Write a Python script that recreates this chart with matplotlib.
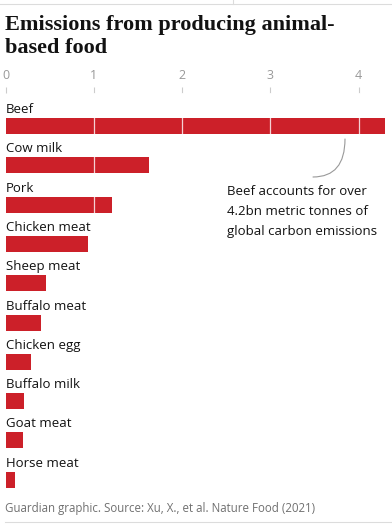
import matplotlib
matplotlib.use("Agg")
import matplotlib.pyplot as plt
from matplotlib.lines import Line2D

foods = ["Beef", "Cow milk", "Pork", "Chicken meat", "Sheep meat",
         "Buffalo meat", "Chicken egg", "Buffalo milk", "Goat meat", "Horse meat"]
emissions = [4.3, 1.63, 1.21, 0.93, 0.455, 0.40, 0.285, 0.206, 0.20, 0.11]
ticks = [0, 1, 2, 3, 4]
note = ["Beef accounts for over", "4.2bn metric tonnes of", "global carbon emissions"]
title = ["Emissions from producing animal-", "based food"]

W, H = 392, 526
red = "#cc2029"
sans = ["Open Sans", "DejaVu Sans"]

fig = plt.figure(figsize=(W / 100, H / 100), dpi=100)


def fx(px):
    return px / W


def fy(py):
    return 1 - py / H


# plot area: x 0 at 5.5px, 88.3px per unit; rows 39.3px apart
left, right = 5.5, 386
top, bottom = 93, 500
ax = fig.add_axes([fx(left), fy(bottom), fx(right - left), (bottom - top) / H])
row_px = 39.3
y0 = -(126 - top) / row_px
ax.set_ylim(y0 + (bottom - top) / row_px, y0)
ax.set_xlim(0, (right - left) / 88.3)


def py2y(py):
    return y0 + (py - top) / row_px


def px2x(px):
    return (px - left) / 88.3


rows = list(range(len(foods)))
ax.barh(rows, emissions, height=16 / row_px, color=red, zorder=2)
for r, name in zip(rows, foods):
    ax.text(0, r - 13 / row_px, name, ha="left", va="baseline",
            fontsize=9.5, family=sans, color="#121212")

for t in ticks[1:]:
    ax.axvline(t, color="white", lw=0.9, alpha=0.8, zorder=3)

ax.xaxis.tick_top()
ax.set_xticks(ticks)
ax.set_xticklabels([str(t) for t in ticks], family=sans, fontsize=9, color="#999999")
ax.tick_params(axis="x", length=4, width=0.8, color="#cccccc", pad=4)
ax.set_yticks([])
for s in ax.spines.values():
    s.set_visible(False)

# annotation for beef
for i, line in enumerate(note):
    ax.text(px2x(227), py2y(195 + 20 * i), line, ha="left", va="baseline",
            fontsize=9.5, family=sans, color="#121212")
ax.annotate("", xy=(px2x(345), py2y(139)), xytext=(px2x(313), py2y(177)),
            arrowprops=dict(arrowstyle="-", color="#999999", lw=0.8,
                            shrinkA=0, shrinkB=0,
                            connectionstyle="angle3,angleA=0,angleB=90"))

# title and footer
for i, line in enumerate(title):
    fig.text(fx(5), fy(30 + 23 * i), line, ha="left", va="baseline",
             fontsize=16, fontweight="bold", family="Liberation Serif",
             color="#121212")
fig.text(fx(5), fy(512), "Guardian graphic. Source: Xu, X., et al. Nature Food (2021)",
         ha="left", va="baseline", fontsize=8.3, family=sans, color="#707070")

# thin rules top and bottom
fig.add_artist(Line2D([0, 1], [fy(4.3), fy(4.3)], color="#dcdcdc", lw=0.8))
fig.add_artist(Line2D([fx(233), fx(233)], [1, fy(4.3)], color="#dcdcdc", lw=0.8))
fig.add_artist(Line2D([fx(5), 1], [fy(522), fy(522)], color="#dcdcdc", lw=0.8))

fig.savefig("out.png", dpi=100)
